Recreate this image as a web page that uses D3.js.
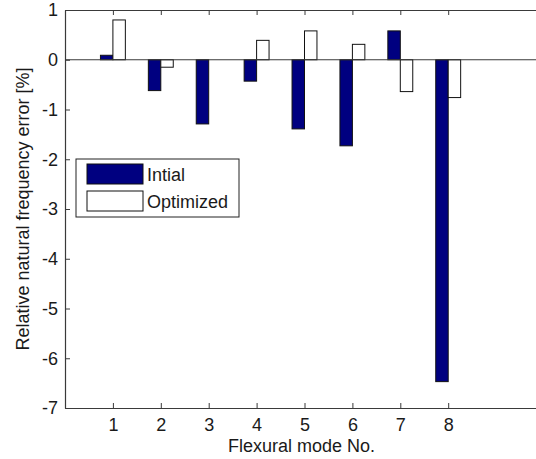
<html>
<head>
<meta charset="utf-8">
<title>Relative natural frequency error</title>
<style>

  body {
    margin: 0;
    background: #fff;
    font-family: 'Liberation Sans', Arial, Helvetica;
  }

  text {
    fill: #1a1a1a;
    font-size: 18px;
  }

  .axis-line {
    stroke: #3a3a3a;
    stroke-width: 1.2;
    fill: none;
  }

  .initial {
    fill: #000080;
    stroke: #111;
  }

  .optimized {
    fill: #fff;
    stroke: #111;
  }

</style>
</head>
<body>
<script src="https://d3js.org/d3.v7.min.js"></script>

<script>

var modes = [1, 2, 3, 4, 5, 6, 7, 8];
var initial = [0.09, -0.62, -1.29, -0.43, -1.39, -1.73, 0.58, -6.47];
var optimized = [0.80, -0.15, 0.0, 0.39, 0.58, 0.31, -0.64, -0.76];
var yTicks = [1, 0, -1, -2, -3, -4, -5, -6, -7];
var seriesNames = ['Intial', 'Optimized'];

var width = 536;
var height = 459;
var margin = {top: 10, left: 65, bottom: 408, right: 544};

var svg = d3.select('body').append('svg')
  .attr('width', width)
  .attr('height', height);

var x = d3.scaleLinear().domain([0, 10]).range([margin.left, margin.right]);
var y = d3.scaleLinear().domain([-7, 1]).range([margin.bottom, margin.top]);

var barW = (x(1) - x(0)) * 0.26;

// bars
svg.selectAll('rect.initial')
  .data(modes)
  .enter().append('rect')
  .attr('class', 'initial')
  .attr('x', function (d) { return x(d) - barW; })
  .attr('width', barW)
  .attr('y', function (d, i) { return y(Math.max(0, initial[i])); })
  .attr('height', function (d, i) { return Math.abs(y(initial[i]) - y(0)); });

svg.selectAll('rect.optimized')
  .data(modes)
  .enter().append('rect')
  .attr('class', 'optimized')
  .attr('x', function (d) { return x(d); })
  .attr('width', barW)
  .attr('y', function (d, i) { return y(Math.max(0, optimized[i])); })
  .attr('height', function (d, i) { return Math.abs(y(optimized[i]) - y(0)); });

// zero baseline
svg.append('line')
  .attr('class', 'axis-line')
  .attr('x1', x(0)).attr('x2', x(10))
  .attr('y1', y(0)).attr('y2', y(0));

// axes, matlab-style with inward ticks and a box
var plainNum = function (d) { return String(d); };

var xBottom = svg.append('g')
  .attr('transform', 'translate(0,' + margin.bottom + ')')
  .call(d3.axisBottom(x).tickValues(modes).tickSizeInner(-5).tickSizeOuter(0).tickPadding(10).tickFormat(plainNum));

var xTop = svg.append('g')
  .attr('transform', 'translate(0,' + margin.top + ')')
  .call(d3.axisTop(x).tickValues(modes).tickSizeInner(-5).tickSizeOuter(0).tickFormat(''));

var yLeft = svg.append('g')
  .attr('transform', 'translate(' + margin.left + ',0)')
  .call(d3.axisLeft(y).tickValues(yTicks).tickSizeInner(-5).tickSizeOuter(0).tickPadding(7).tickFormat(plainNum));

[xBottom, xTop, yLeft].forEach(function (g) {
  g.selectAll('path').attr('class', 'axis-line');
  g.selectAll('line').attr('stroke', '#3a3a3a');
  g.selectAll('text').attr('font-size', 18).attr('font-family', null).style('fill', '#1a1a1a');
});
xBottom.selectAll('text').attr('dy', '0.71em');

// axis titles
svg.append('text')
  .attr('x', (margin.left + margin.right) / 2 - 3)
  .attr('y', 452)
  .attr('text-anchor', 'middle')
  .text('Flexural mode No.');

svg.append('text')
  .attr('transform', 'translate(29,' + ((margin.top + margin.bottom) / 2) + ') rotate(-90)')
  .attr('text-anchor', 'middle')
  .text('Relative natural frequency error [%]');

// legend
var legend = svg.append('g').attr('transform', 'translate(76,159)');

legend.append('rect')
  .attr('width', 163).attr('height', 58)
  .attr('fill', '#fff').attr('stroke', '#222');

legend.selectAll('rect.key')
  .data(seriesNames)
  .enter().append('rect')
  .attr('class', function (d, i) { return i === 0 ? 'key initial' : 'key optimized'; })
  .attr('x', 11).attr('y', function (d, i) { return 5 + i * 27; })
  .attr('width', 56).attr('height', 20);

legend.selectAll('text')
  .data(seriesNames)
  .enter().append('text')
  .attr('x', 71).attr('y', function (d, i) { return 22 + i * 27; })
  .text(function (d) { return d; });

</script>
</body>
</html>
